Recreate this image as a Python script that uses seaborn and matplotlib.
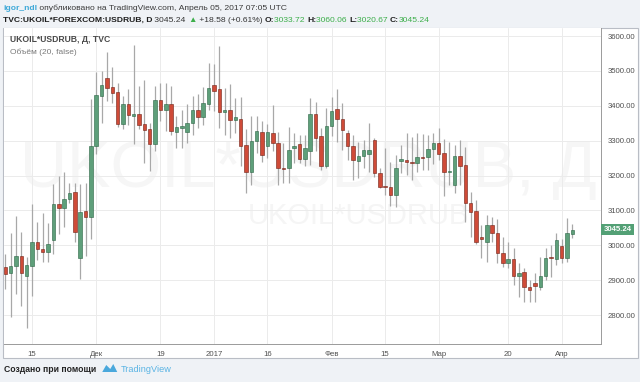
import numpy as np
import pandas as pd
import matplotlib
matplotlib.use("Agg")
import matplotlib.pyplot as plt
import seaborn as sns
from matplotlib.patches import Rectangle, Polygon

# daily OHLC for UKOIL*USDRUB, 8 Nov 2016 .. 5 Apr 2017
opens = [2939, 2920, 2942, 2968, 2913, 2940, 3010, 2988, 2980, 3014,
         3118, 3108, 3132, 3154, 2964, 3099, 3082, 3284, 3428, 3481,
         3454, 3440, 3348, 3404, 3372, 3377, 3348, 3334, 3290, 3418,
         3389, 3404, 3325, 3337, 3325, 3351, 3389, 3369, 3406, 3459,
         3447, 3383, 3389, 3358, 3363, 3288, 3209, 3300, 3325, 3286,
         3322, 3294, 3223, 3223, 3278, 3290, 3247, 3271, 3376, 3314,
         3226, 3342, 3390, 3362, 3321, 3286, 3243, 3256, 3262, 3302,
         3206, 3170, 3168, 3144, 3243, 3245, 3240, 3235, 3252, 3254,
         3275, 3294, 3265, 3209, 3173, 3256, 3230, 3122, 3098, 3025,
         3010, 3058, 3034, 2979, 2948, 2960, 2913, 2922, 2881, 2891,
         2879, 2912, 2967, 2962, 2998, 2964, 3033.72]
highs = [2976, 3036, 3084, 3038, 2966, 3118, 3067, 3093, 3064, 3176,
         3199, 3209, 3180, 3180, 3176, 3178, 3420, 3497, 3500, 3553,
         3512, 3466, 3428, 3447, 3574, 3457, 3474, 3351, 3457, 3466,
         3466, 3457, 3372, 3387, 3404, 3428, 3435, 3454, 3522, 3519,
         3572, 3452, 3463, 3423, 3425, 3332, 3372, 3372, 3357, 3348,
         3402, 3324, 3294, 3340, 3321, 3316, 3316, 3422, 3412, 3336,
         3395, 3426, 3447, 3409, 3331, 3316, 3297, 3302, 3350, 3307,
         3221, 3278, 3240, 3259, 3287, 3321, 3310, 3321, 3318, 3316,
         3321, 3337, 3304, 3297, 3287, 3302, 3283, 3154, 3130, 3058,
         3087, 3082, 3074, 3025, 3010, 2991, 2948, 2934, 2901, 2920,
         2967, 2991, 3001, 3036, 3017, 3077, 3060.06]
lows = [2875, 2795, 2860, 2827, 2762, 2856, 2957, 2952, 2952, 2976,
        3031, 3053, 3120, 3010, 2904, 2968, 3017, 3263, 3351, 3413,
        3409, 3339, 3332, 3346, 3291, 3333, 3236, 3212, 3269, 3355,
        3327, 3317, 3279, 3279, 3293, 3315, 3337, 3346, 3387, 3385,
        3337, 3317, 3308, 3321, 3226, 3149, 3173, 3266, 3240, 3250,
        3269, 3173, 3180, 3178, 3237, 3235, 3226, 3230, 3269, 3216,
        3221, 3312, 3297, 3273, 3245, 3187, 3192, 3221, 3211, 3197,
        3163, 3144, 3113, 3111, 3208, 3201, 3187, 3211, 3216, 3216,
        3233, 3245, 3141, 3173, 3151, 3173, 3068, 3025, 3003, 2963,
        2953, 3010, 2948, 2939, 2934, 2886, 2853, 2838, 2838, 2838,
        2872, 2900, 2910, 2943, 2948, 2953, 3020.67]
closes = [2918, 2942, 2968, 2921, 2944, 3010, 2988, 2980, 3003, 3118,
          3108, 3133, 3149, 3038, 3096, 3082, 3284, 3430, 3461, 3452,
          3437, 3348, 3404, 3374, 3375, 3346, 3330, 3290, 3418, 3389,
          3404, 3327, 3338, 3342, 3351, 3389, 3369, 3409, 3452, 3442,
          3383, 3387, 3358, 3369, 3286, 3210, 3300, 3329, 3260, 3325,
          3294, 3221, 3220, 3272, 3286, 3247, 3280, 3376, 3307, 3226,
          3343, 3386, 3361, 3331, 3285, 3245, 3256, 3273, 3273, 3206,
          3168, 3166, 3144, 3221, 3247, 3238, 3235, 3252, 3249, 3275,
          3294, 3262, 3209, 3214, 3256, 3227, 3120, 3096, 3010, 3017,
          3058, 3034, 2979, 2948, 2960, 2913, 2920, 2879, 2871, 2883,
          2912, 2965, 2964, 3015, 2964, 3034, 3045.24]

tick_dates = ["2016-11-15", "2016-12-01", "2016-12-19", "2017-01-02", "2017-01-16",
              "2017-02-01", "2017-02-15", "2017-03-01", "2017-03-20", "2017-04-03"]
tick_labels = ["15", "Дек", "19", "2017", "16", "Фев", "15", "Мар", "20", "Апр"]
price_ticks = [2800, 2900, 3000, 3100, 3200, 3300, 3400, 3500, 3600]

UP, UP_EDGE = "#5e9f7a", "#2a6443"
DOWN, DOWN_EDGE = "#cf4b38", "#702015"
WICK = "#a8a8a8"
GRID = "#ebebeb"
BG = "#eff2f6"

W, H = 640, 382


def fx(x):
    return x / W


def fy(y):
    return 1 - y / H


def text_run(fig, renderer, x, y, parts, size):
    """Draw text pieces one after the other on one line (pixel coords)."""
    for s, color, weight in parts:
        t = fig.text(fx(x), fy(y), s, color=color, fontsize=size,
                     fontweight=weight, va="center", ha="left")
        x += t.get_window_extent(renderer).width
    return x


sns.set_style("white")
plt.rcParams["font.family"] = ["Liberation Sans", "DejaVu Sans"]

df = pd.DataFrame({
    "date": pd.bdate_range("2016-11-08", "2017-04-05"),
    "open": opens, "high": highs, "low": lows, "close": closes,
})
df["i"] = np.arange(len(df))
df["up"] = df["close"] >= df["open"]
df["body_lo"] = df[["open", "close"]].min(axis=1)
df["body_h"] = (df["close"] - df["open"]).abs().clip(lower=3)

fig = plt.figure(figsize=(W / 100, H / 100), dpi=100, facecolor=BG)
renderer = fig.canvas.get_renderer()

# white chart panel (behind the axes)
fig.patches.append(Rectangle((fx(3), fy(358)), fx(635), 330 / H, transform=fig.transFigure,
                             facecolor="white", edgecolor="#b9bdc5", lw=0.8, zorder=-1))

ax = fig.add_axes([fx(4), fy(344), fx(597), 316 / H])
ax.set_facecolor("white")

# watermark
ax.text(fx(308), fy(170), "UKOIL*USDRUB, Д", transform=fig.transFigure, fontsize=47,
        color="#f6f6f6", ha="center", va="center", zorder=0.1)
ax.text(fx(358), fy(216), "UKOIL*USDRUB", transform=fig.transFigure, fontsize=21,
        color="#f5f5f5", ha="center", va="center", zorder=0.1)

ax.vlines(df["i"], df["low"], df["high"], color=WICK, lw=0.9, zorder=2)
ax.bar(df["i"], df["body_h"], bottom=df["body_lo"], width=0.66,
       color=np.where(df["up"], UP, DOWN),
       edgecolor=np.where(df["up"], UP_EDGE, DOWN_EDGE), lw=0.4, zorder=3)

ax.set_xlim(-0.24, 111.35)
ax.set_ylim(2717, 3623)

tick_pos = [int(df.index[df["date"] == pd.Timestamp(d)][0]) for d in tick_dates]
ax.set_xticks(tick_pos)
ax.set_xticklabels(tick_labels)
ax.set_yticks(price_ticks)
ax.set_yticklabels([f"{p:.2f}" for p in price_ticks])
ax.yaxis.tick_right()
ax.tick_params(axis="both", length=3, width=0.6, color="#9a9a9a", labelsize=5.6,
               labelcolor="#505050", pad=2)
ax.grid(True, color=GRID, lw=0.7)
ax.set_axisbelow(True)
sns.despine(ax=ax, left=True, top=True, right=False, bottom=False)
for side in ("right", "bottom"):
    ax.spines[side].set_color("#9a9a9a")
    ax.spines[side].set_linewidth(0.7)

# last price marker on the price scale
ax.text(1.004, closes[-1], f"{closes[-1]:.2f}", transform=ax.get_yaxis_transform(),
        fontsize=5.6, color="white", fontweight="bold", va="center", ha="left",
        bbox=dict(boxstyle="square,pad=0.3", fc="#53a075", ec="none"), clip_on=False)

# legend texts inside the pane
fig.text(fx(10), fy(40), "UKOIL*USDRUB, Д, TVC", fontsize=6.2, color="#4a4a4a",
         fontweight="bold", va="center")
fig.text(fx(10), fy(52), "Объём (20, false)", fontsize=6, color="#7a7a7a", va="center")

# header
text_run(fig, renderer, 3, 8, [
    ("igor_ndl", "#3fa9d8", "bold"),
    (" опубликовано на TradingView.com, Апрель 05, 2017 07:05 UTC", "#3a3a3a", "normal"),
], 6.1)
green = "#3cae4a"
text_run(fig, renderer, 3, 20, [
    ("TVC:UKOIL*FOREXCOM:USDRUB, D", "#1e1e1e", "bold"),
    (" 3045.24 ", "#333333", "normal"),
    ("▲", green, "normal"),
    (" +18.58 (+0.61%) ", "#333333", "normal"),
    ("O:", "#1e1e1e", "bold"), ("3033.72 ", green, "normal"),
    ("H:", "#1e1e1e", "bold"), ("3060.06 ", green, "normal"),
    ("L:", "#1e1e1e", "bold"), ("3020.67 ", green, "normal"),
    ("C:", "#1e1e1e", "bold"), ("3045.24", green, "normal"),
], 6.1)

# footer
x_end = text_run(fig, renderer, 4, 369, [("Создано при помощи", "#222222", "bold")], 6.2)
lx = x_end + 6
logo = [(lx, 372), (lx + 4, 365), (lx + 8, 369), (lx + 11, 364), (lx + 15, 372)]
fig.patches.append(Polygon([(fx(a), fy(b)) for a, b in logo], closed=True,
                           transform=fig.transFigure, fc="#4aa8dc", ec="none"))
fig.text(fx(lx + 19), fy(369), "TradingView", fontsize=6.6, color="#5ab4e4", va="center")

fig.savefig("out.png", dpi=100, facecolor=BG)
